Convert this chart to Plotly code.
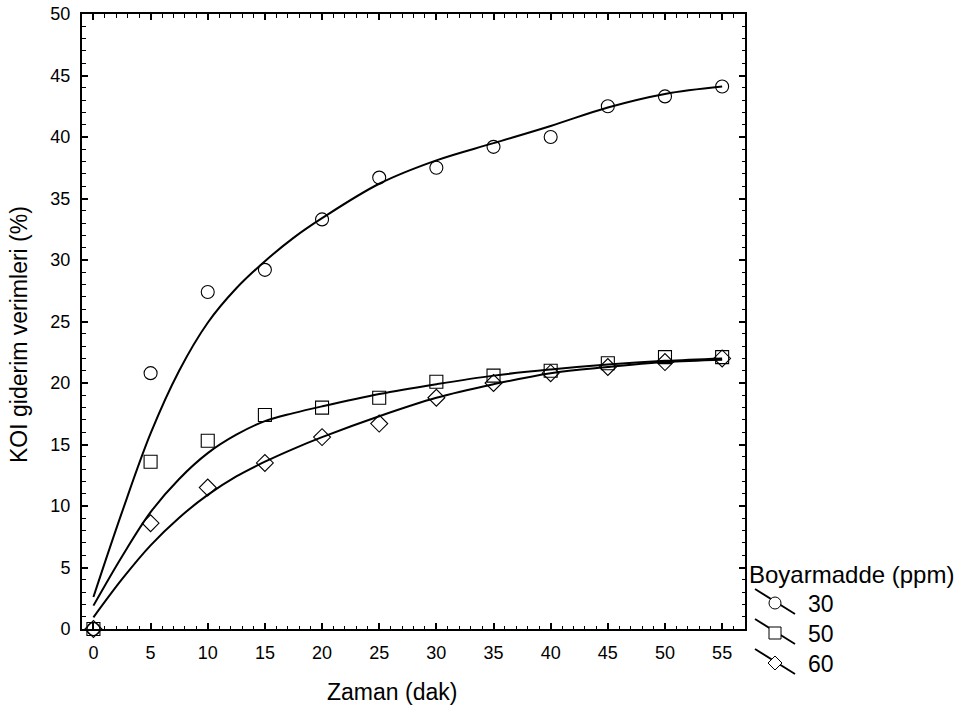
import plotly.graph_objects as go

# ---- data ----
zaman = [0, 5, 10, 15, 20, 25, 30, 35, 40, 45, 50, 55]
kon_30 = [0, 20.8, 27.4, 29.2, 33.3, 36.7, 37.5, 39.2, 40.0, 42.5, 43.3, 44.1]
kon_50 = [0, 13.6, 15.3, 17.4, 18.0, 18.8, 20.1, 20.6, 21.0, 21.6, 22.1, 22.1]
kon_60 = [0, 8.6, 11.5, 13.5, 15.6, 16.7, 18.8, 20.0, 20.8, 21.3, 21.7, 22.0]

# fitted (smoothed) curves at these times
fit_x = [0, 2.5, 5, 7.5, 10, 12.5, 15, 17.5, 20, 25, 30, 35, 40, 45, 50, 55]
fit_30 = [2.6, 9.5, 15.9, 21.0, 24.9, 27.7, 29.9, 31.8, 33.4, 36.2, 38.1, 39.5, 40.9, 42.4, 43.5, 44.1]
fit_50 = [1.9, 5.9, 9.5, 12.2, 14.3, 15.8, 16.9, 17.55, 18.1, 19.1, 19.9, 20.6, 21.1, 21.5, 21.8, 22.0]
fit_60 = [0.95, 4.05, 6.8, 9.05, 10.9, 12.4, 13.6, 14.65, 15.6, 17.3, 18.8, 19.9, 20.8, 21.3, 21.7, 21.9]

legend_title = "Boyarmadde (ppm)"
legend_labels = ["30", "50", "60"]
x_title = "Zaman (dak)"
y_title = "KOI giderim verimleri (%)"
x_ticks = list(range(0, 60, 5))
y_ticks = list(range(0, 55, 5))

W, H = 965, 713
L, R, T, B = 82, 745, 14, 629
FONT = "Liberation Sans, Arial, sans-serif"

fig = go.Figure()
for fit in (fit_30, fit_50, fit_60):
    fig.add_trace(go.Scatter(x=fit_x, y=fit, mode="lines",
                             line=dict(color="black", width=2, shape="spline", smoothing=1.0),
                             showlegend=False, hoverinfo="skip"))
for vals, sym in ((kon_30, "circle-open"), (kon_50, "square-open"), (kon_60, "diamond-open")):
    fig.add_trace(go.Scatter(x=zaman, y=vals, mode="markers",
                             marker=dict(symbol=sym, size=13, color="black",
                                         line=dict(width=1.1, color="black")),
                             showlegend=False, cliponaxis=False))


def px(x):
    return (x - L) / (R - L)


def py(y):
    return (B - y) / (B - T)


shapes = []
annotations = []
annotations.append(dict(text=legend_title, x=px(747), y=py(574), xref="paper", yref="paper",
                        xanchor="left", yanchor="middle", showarrow=False,
                        font=dict(size=24, color="black", family=FONT)))
rows = [603, 633, 663]
for i, (lab, cy) in enumerate(zip(legend_labels, rows)):
    shapes.append(dict(type="line", xref="paper", yref="paper",
                       x0=px(755), y0=py(cy - 14), x1=px(795), y1=py(cy + 11),
                       line=dict(color="black", width=1.8)))
    cx = 775
    r = 6
    if i == 0:
        shapes.append(dict(type="circle", xref="paper", yref="paper",
                           x0=px(cx - r), x1=px(cx + r), y0=py(cy + r), y1=py(cy - r),
                           fillcolor="white", line=dict(color="black", width=1)))
    elif i == 1:
        shapes.append(dict(type="rect", xref="paper", yref="paper",
                           x0=px(cx - r), x1=px(cx + r), y0=py(cy + r), y1=py(cy - r),
                           fillcolor="white", line=dict(color="black", width=1)))
    else:
        d = 7
        path = (f"M {px(cx)} {py(cy - d)} L {px(cx + d)} {py(cy)} "
                f"L {px(cx)} {py(cy + d)} L {px(cx - d)} {py(cy)} Z")
        shapes.append(dict(type="path", xref="paper", yref="paper", path=path,
                           fillcolor="white", line=dict(color="black", width=1)))
    annotations.append(dict(text=lab, x=px(806), y=py(cy + 1), xref="paper", yref="paper",
                            xanchor="left", yanchor="middle", showarrow=False,
                            font=dict(size=23, color="black", family=FONT)))

# axis titles
annotations.append(dict(text=x_title, x=px(392), y=py(692), xref="paper", yref="paper",
                        xanchor="center", yanchor="middle", showarrow=False,
                        font=dict(size=23, color="black", family=FONT)))
annotations.append(dict(text=y_title, x=px(19), y=py(335), xref="paper", yref="paper",
                        xanchor="center", yanchor="middle", showarrow=False, textangle=-90,
                        font=dict(size=23, color="black", family=FONT)))

axis_common = dict(showgrid=False, zeroline=False, showline=True, linecolor="black",
                   linewidth=2, mirror="allticks", ticks="inside", ticklen=6,
                   tickwidth=1.5, tickcolor="black", automargin=False,
                   tickfont=dict(size=18, color="black", family=FONT))

fig.update_layout(
    width=W, height=H,
    margin=dict(l=L, r=W - R, t=T, b=H - B, autoexpand=False),
    paper_bgcolor="white", plot_bgcolor="white",
    font=dict(family=FONT, color="black"),
    shapes=shapes, annotations=annotations,
    showlegend=False,
    xaxis=dict(range=[-1, 57], tickvals=x_ticks, ticktext=[str(v) for v in x_ticks],
               minor=dict(dtick=1, tick0=0, ticks="inside", ticklen=3.5, tickwidth=1.2,
                          tickcolor="black"),
               ticklabelstandoff=6,
               **axis_common),
    yaxis=dict(range=[0, 50], tickvals=y_ticks, ticktext=[str(v) for v in y_ticks],
               minor=dict(dtick=1, tick0=0, ticks="inside", ticklen=3.5, tickwidth=1.2,
                          tickcolor="black"),
               ticklabelstandoff=6,
               **axis_common),
)

fig.write_html("out.html")
